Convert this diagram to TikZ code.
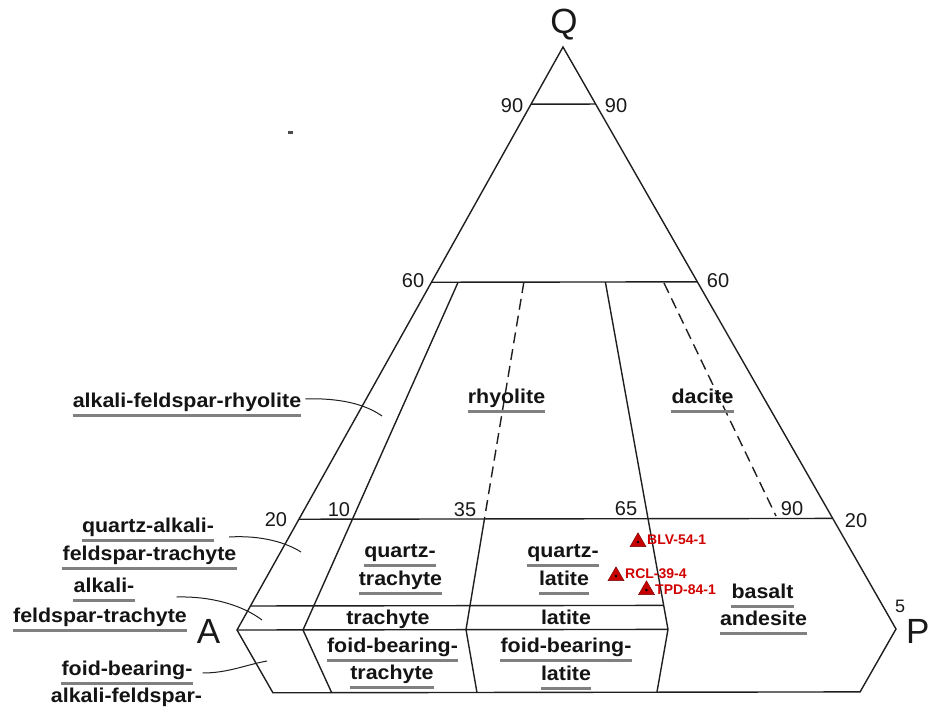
\documentclass[tikz,border=0pt]{standalone}
\usepackage{fontspec}
\setmainfont{Liberation Sans}
\newfontfamily\lblfont{Liberation Sans}[FakeStretch=1.07]
\usetikzlibrary{calc,shapes.geometric}
\newcommand\ulab[1]{\draw[uline] ([yshift=-8.5pt]#1.base west) -- ([yshift=-8.5pt]#1.base east);}
\tikzset{
  lbl/.style={font=\lblfont\bfseries\fontsize{20}{22}\selectfont, text=black!92, inner sep=0pt, anchor=base},
  num/.style={font=\fontsize{20}{22}\selectfont, text=black!90, inner sep=0pt, anchor=base},
  corner/.style={font=\fontsize{35}{40}\selectfont, text=black!90, inner sep=0pt, anchor=base},
  uline/.style={draw=black!50, line width=2.2pt},
  edge/.style={line width=1.4pt, draw=black!88},
  dashedge/.style={edge, dash pattern=on 11pt off 6pt},
  leader/.style={line width=1pt, draw=black!88},
  sample/.style={regular polygon, regular polygon sides=3, minimum size=18.5pt, inner sep=0pt, fill=red!78!black, draw=red!45!black, line width=0.4pt},
  samplelbl/.style={font=\bfseries\fontsize{14}{16}\selectfont, text=red!82!black, inner sep=0pt, anchor=base west},
}
\begin{document}
\begin{tikzpicture}[x=1pt,y=-1pt]
\useasboundingbox (0,0) rectangle (930,712);
% vertices
\coordinate (Q) at (563,47);
\coordinate (A) at (237,630);
\coordinate (P) at (896,629);
\coordinate (F) at (566.5,1206);
\coordinate (B10) at (303,630);
\coordinate (B35) at (466,629.6);
\coordinate (B65) at (668,629.4);
\coordinate (BL) at ($(A)!0.109!(F)$);
\coordinate (BR) at ($(P)!0.109!(F)$);
\coordinate (D90a) at (664,283);
\coordinate (D90b) at (776,516);
% outline
\draw[edge] (Q) -- (P) -- (BR) -- (BL) -- (A) -- cycle;
% horizontal lines
\draw[edge] ($(Q)!0.098!(A)$) -- ($(Q)!0.098!(P)$);
\draw[edge] ($(Q)!0.4035!(A)$) -- ($(Q)!0.4035!(P)$);
\draw[edge] ($(Q)!0.81!(A)$) -- ($(Q)!0.81!(P)$);
\draw[edge] ($(Q)!0.9588!(A)$) -- ($(Q)!0.9588!(B65)$);
\draw[edge] (A) -- (B65);
% dividers
\draw[edge] ($(Q)!0.4035!(B10)$) -- (B10) -- ($(B10)!0.109!(F)$);
\draw[dashedge] ($(Q)!0.4035!(B35)$) -- ($(Q)!0.81!(B35)$);
\draw[edge] ($(Q)!0.81!(B35)$) -- (B35) -- ($(B35)!0.109!(F)$);
\draw[edge] ($(Q)!0.4035!(B65)$) -- (B65) -- ($(B65)!0.109!(F)$);
\draw[dashedge] (D90a) -- (D90b);
% stray speck
\fill[black!70] (288,130.5) rectangle (292.5,133.5);
% corner letters
\node[corner] (lQ) at (564,33) {Q};
\node[corner] (lA) at (208.5,643) {A};
\node[corner, anchor=base west] (lP) at (906,643) {P};
% numbers
\node[num] (n90l) at (512,112) {90};
\node[num] (n90r) at (616,112) {90};
\node[num] (n60l) at (413,287) {60};
\node[num] (n60r) at (718,287) {60};
\node[num] (n20l) at (276,526) {20};
\node[num] (n20r) at (856,527) {20};
\node[num] (n10) at (339,516) {10};
\node[num] (n35) at (465,516) {35};
\node[num] (n65) at (626,515) {65};
\node[num] (n90b) at (792,515) {90};
\node[num, font=\fontsize{18}{20}\selectfont] (n5) at (900,612) {5};
% field labels
\node[lbl] (afr) at (187,407) {alkali-feldspar-rhyolite}; \ulab{afr}
\node[lbl] (rhy) at (506.5,403) {rhyolite}; \ulab{rhy}
\node[lbl] (dac) at (702.5,403) {dacite}; \ulab{dac}
\node[lbl] (qt1) at (400,557) {quartz-}; \ulab{qt1}
\node[lbl] (qt2) at (400.5,585) {trachyte}; \ulab{qt2}
\node[lbl] (tra) at (388,624) {trachyte};
\node[lbl] (ft1) at (392.5,652) {foid-bearing-}; \ulab{ft1}
\node[lbl] (ft2) at (392,679) {trachyte}; \ulab{ft2}
\node[lbl] (ql1) at (563,557) {quartz-}; \ulab{ql1}
\node[lbl] (ql2) at (564,585) {latite}; \ulab{ql2}
\node[lbl] (lat) at (566,624) {latite};
\node[lbl] (fl1) at (566,652) {foid-bearing-}; \ulab{fl1}
\node[lbl] (fl2) at (566,680) {latite}; \ulab{fl2}
\node[lbl] (ba1) at (762.5,598) {basalt}; \ulab{ba1}
\node[lbl] (ba2) at (763.5,625) {andesite}; \ulab{ba2}
\node[lbl] (qa1) at (148,532) {quartz-alkali-}; \ulab{qa1}
\node[lbl] (qa2) at (149.5,560) {feldspar-trachyte}; \ulab{qa2}
\node[lbl] (af1) at (104,592) {alkali-}; \ulab{af1}
\node[lbl] (af2) at (100,622) {feldspar-trachyte}; \ulab{af2}
\node[lbl] (fb1) at (127,675) {foid-bearing-}; \ulab{fb1}
\node[lbl] (fb2) at (126.5,702) {alkali-feldspar-};
% leader lines
\coordinate (e1) at (382,416);
\coordinate (e2) at (301,552);
\coordinate (e3) at (262,620);
\coordinate (e4) at (267,661);
\draw[leader] ([xshift=4pt,yshift=3pt]afr.east) .. controls (340,398) and (365,404) .. (e1);
\draw[leader] ([xshift=15pt,yshift=-5pt]qa1.base east) .. controls (262,535) and (287,543) .. (e2);
\draw[leader] ([xshift=42pt,yshift=-5pt]af1.base east) .. controls (215,596) and (245,607) .. (e3);
\draw[leader] ([xshift=10pt,yshift=2pt]fb1.base east) .. controls (228,673) and (245,665) .. (e4);
% samples
\node[sample] (s1) at (638,542) {};
\fill[black] (s1.center) circle (1.3pt);
\node[samplelbl] (t1) at (647,544.5) {BLV-54-1};
\node[sample] (s2) at (616,576) {};
\fill[black] (s2.center) circle (1.3pt);
\node[samplelbl] (t2) at (625,578) {RCL-39-4};
\node[sample] (s3) at (646.5,590) {};
\fill[black] (s3.center) circle (1.3pt);
\node[samplelbl] (t3) at (655,594) {TPD-84-1};
\end{tikzpicture}
\end{document}
